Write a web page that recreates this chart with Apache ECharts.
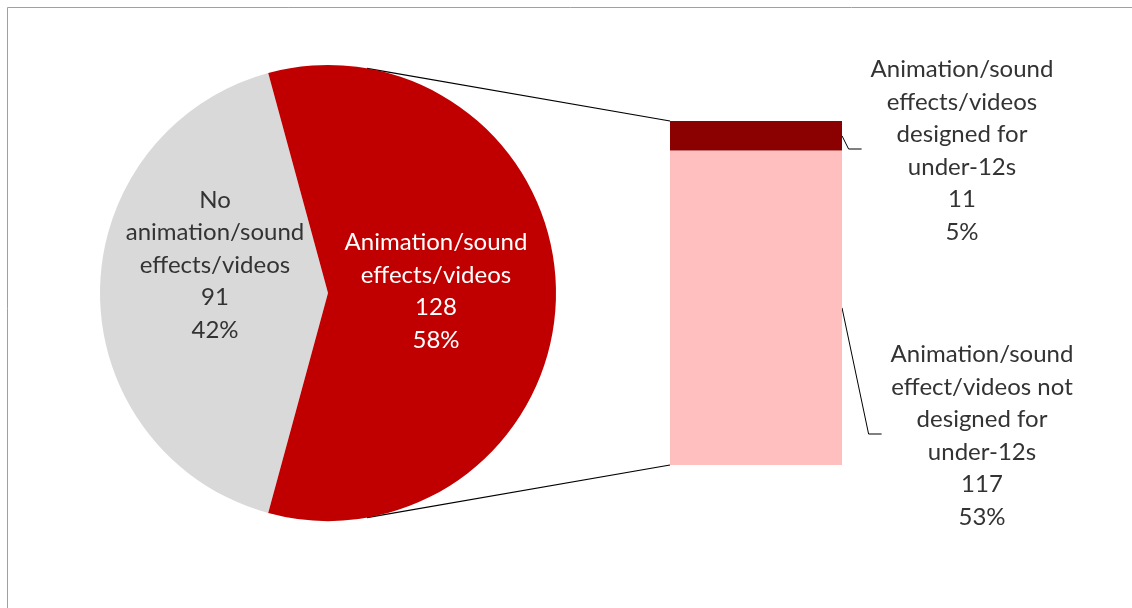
<!DOCTYPE html>
<html>
<head>
<meta charset="utf-8">
<script src="https://cdn.jsdelivr.net/npm/echarts@6/dist/echarts.min.js"></script>
<style>
  html, body { margin: 0; padding: 0; background: #fff; }
  #chart { width: 1132px; height: 608px; }
</style>
</head>
<body>
<div id="chart"></div>
<script>
// Pie: websites with / without animation, sound effects or videos
const pieNames = ['No\nanimation/sound\neffects/videos', 'Animation/sound\neffects/videos'];
const pieValues = [91, 128];
const pieColors = ['#D9D9D9', '#C00000'];

// Bar: breakdown of the "Animation/sound effects/videos" slice (bottom to top)
const barNames = [
  'Animation/sound\neffect/videos not\ndesigned for\nunder-12s',
  'Animation/sound\neffects/videos\ndesigned for\nunder-12s'
];
const barValues = [117, 11];
const barColors = ['#FFBFBF', '#8B0000'];

const total = pieValues.reduce((a, b) => a + b, 0);
const pct = v => Math.round(v / total * 100) + '%';
const barTotal = barValues.reduce((a, b) => a + b, 0);

const FONT = 'Lato';
const FONT_SIZE = 24;
const FONT_WEIGHT = 400;
const LINE_H = 32.5;
const TEXT = '#333333';

// geometry of the pie and the bar
const CX = 328, CY = 293, R = 228;
const BAR_LEFT = 670, BAR_W = 172, BAR_TOP = 121, BAR_H = 344;
// centres of the text blocks
const pieLabelPos = [[215, 265], [436, 291.5]];
const barLabelPos = [[982, 436], [962, 151]];

const chart = echarts.init(document.getElementById('chart'), null, { renderer: 'canvas' });

const textStyle = {
  fontFamily: FONT, fontSize: FONT_SIZE, fontWeight: FONT_WEIGHT,
  color: TEXT, lineHeight: LINE_H, align: 'center'
};

const option = {
  backgroundColor: '#fff',
  animation: false,
  grid: { left: BAR_LEFT, top: BAR_TOP, width: BAR_W, height: BAR_H, containLabel: false },
  xAxis: { type: 'category', data: [''], show: false },
  yAxis: { type: 'value', min: 0, max: barTotal, show: false },
  series: [
    {
      type: 'pie',
      center: [CX, CY],
      radius: R,
      clockwise: true,
      // grey slice centred on the left, red slice on the right
      startAngle: 180 + 180 * pieValues[0] / total,
      silent: true,
      itemStyle: { borderWidth: 0 },
      label: {
        show: true,
        position: 'inside',
        ...textStyle,
        formatter: p => p.name + '\n' + p.value + '\n' + pct(p.value)
      },
      labelLine: { show: false },
      labelLayout: p => ({
        x: pieLabelPos[p.dataIndex][0], y: pieLabelPos[p.dataIndex][1],
        align: 'center', verticalAlign: 'middle'
      }),
      data: pieValues.map((v, i) => ({
        name: pieNames[i], value: v,
        itemStyle: { color: pieColors[i] },
        label: { color: i === 1 ? '#FFFFFF' : TEXT }
      }))
    },
    ...barValues.map((v, i) => ({
      type: 'bar',
      name: barNames[i],
      stack: 'split',
      barWidth: '100%',
      silent: true,
      itemStyle: { color: barColors[i] },
      data: [v],
      label: {
        show: true,
        ...textStyle,
        formatter: p => p.seriesName + '\n' + p.value + '\n' + pct(p.value)
      },
      labelLayout: {
        x: barLabelPos[i][0], y: barLabelPos[i][1],
        align: 'center', verticalAlign: 'middle'
      }
    }))
  ]
};

chart.setOption(option);

// series lines (tangent from bar corners to the pie) and label leader lines
function tangentPoint(px, py, side) {
  const dx = px - CX, dy = py - CY;
  const d = Math.sqrt(dx * dx + dy * dy);
  const th = Math.atan2(dy, dx) + side * Math.acos(R / d);
  return [CX + R * Math.cos(th), CY + R * Math.sin(th)];
}

const ctx = document.createElement('canvas').getContext('2d');
ctx.font = FONT_WEIGHT + ' ' + FONT_SIZE + 'px ' + FONT;
const blockWidth = s => Math.max(...s.split('\n').map(t => ctx.measureText(t).width));

const topPx = chart.convertToPixel({ gridIndex: 0 }, [0, barTotal]);
const splitPx = chart.convertToPixel({ gridIndex: 0 }, [0, barValues[0]]);
const basePx = chart.convertToPixel({ gridIndex: 0 }, [0, 0]);
const right = BAR_LEFT + BAR_W;

const tTop = tangentPoint(BAR_LEFT, topPx[1], -1);
const tBot = tangentPoint(BAR_LEFT, basePx[1], 1);

const segMid = [(splitPx[1] + basePx[1]) / 2, (topPx[1] + splitPx[1]) / 2];
const leaders = barValues.map((v, i) => {
  const w = blockWidth(barNames[i]);
  const endX = barLabelPos[i][0] - w / 2 - 9;
  const endY = barLabelPos[i][1] - 2;
  return {
    type: 'polyline',
    silent: true,
    shape: { points: [[right, segMid[i]], [endX - 13, endY], [endX, endY]] },
    style: { stroke: '#000', lineWidth: 1, fill: null }
  };
});

chart.setOption({
  graphic: [
    {
      type: 'rect', silent: true,
      shape: { x: 7.5, y: 7.5, width: 1300, height: 800 },
      style: { stroke: '#A0A0A0', lineWidth: 1, fill: null },
      z: -10
    },
    {
      type: 'line', silent: true,
      shape: { x1: tTop[0], y1: tTop[1], x2: BAR_LEFT, y2: topPx[1] },
      style: { stroke: '#000', lineWidth: 1.2 }
    },
    {
      type: 'line', silent: true,
      shape: { x1: tBot[0], y1: tBot[1], x2: BAR_LEFT, y2: basePx[1] },
      style: { stroke: '#000', lineWidth: 1.2 }
    },
    ...leaders
  ]
});
</script>
</body>
</html>
